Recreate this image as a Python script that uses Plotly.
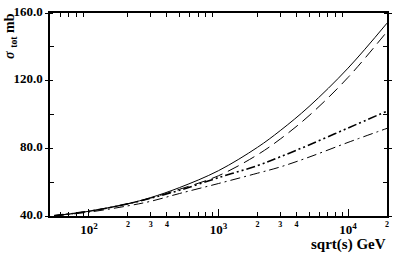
import plotly.graph_objects as go
import numpy as np

# data
sqrt_s = [54, 100, 200, 300, 500, 1000, 2000, 3000, 5000, 10000, 20000]
sigma_solid = [40.2, 42.8, 47.3, 50.9, 56.8, 66.8, 80.6, 90.5, 104.7, 127.4, 154.0]
sigma_dash = [40.2, 42.8, 47.2, 50.6, 55.8, 63.8, 76.2, 85.5, 99.3, 121.9, 149.0]
sigma_dashdotdot = [40.2, 42.8, 47.2, 50.5, 55.2, 62.7, 69.8, 75.0, 82.0, 92.0, 102.0]
sigma_dashdot = [40.1, 42.3, 46.0, 48.7, 53.3, 59.2, 65.3, 69.0, 74.8, 83.5, 91.8]

y_ticks = [40, 80, 120, 160]
y_ticklabels = ["40.0", "80.0", "120.0", "160.0"]
y_minor = [60, 100, 140]

x_major = [100, 1000, 10000]
x_major_labels = ["10<sup>2</sup>", "10<sup>3</sup>", "10<sup>4</sup>"]
x_minor = [m * 10 ** e for e in (1, 2, 3) for m in range(2, 10) if 50 < m * 10 ** e < 20000] + [20000]
x_minor_labels = [str(int(v / 10 ** int(np.floor(np.log10(v))))) if (v >= 200 and int(v / 10 ** int(np.floor(np.log10(v)))) in (2, 3, 4)) else "" for v in x_minor]

FONT = "Liberation Serif"
x_range = [np.log10(50), np.log10(20000)]

fig = go.Figure()
styles = [
    (sigma_solid, "solid", 1.0),
    (sigma_dash, "12px,6px", 1.0),
    (sigma_dashdotdot, "9px,3px,2px,3px,2px,3px", 1.6),
    (sigma_dashdot, "10px,4px,2px,4px", 1.0),
]
for ys, dash, w in styles:
    fig.add_trace(go.Scatter(x=sqrt_s, y=ys, mode="lines",
                             line=dict(color="black", width=w, dash=dash, shape="spline", smoothing=1.0),
                             showlegend=False, xaxis="x", yaxis="y"))

fig.update_layout(
    width=396, height=258,
    margin=dict(l=50, r=4, t=4, b=42),
    paper_bgcolor="white", plot_bgcolor="white",
    font=dict(family=FONT, color="black"),
    xaxis=dict(type="log", range=x_range, showgrid=False, zeroline=False,
               showline=True, linecolor="black", linewidth=1.5, mirror="allticks",
               ticks="inside", ticklen=4, tickcolor="black", tickwidth=1,
               tickvals=x_minor, ticktext=x_minor_labels,
               tickfont=dict(family=FONT, size=8, color="black", weight="bold"),
               ticklabelstandoff=0, ticklabeloverflow="allow"),
    xaxis2=dict(type="log", range=x_range, overlaying="x", anchor="y", side="bottom",
                showgrid=False, zeroline=False, showline=False,
                ticks="inside", ticklen=7, tickcolor="black", tickwidth=1,
                tickvals=x_major, ticktext=x_major_labels,
                tickfont=dict(family=FONT, size=13, color="black", weight="bold"),
                ticklabelstandoff=4, ticklabeloverflow="allow"),
    yaxis=dict(range=[40, 160], showgrid=False, zeroline=False,
               showline=True, linecolor="black", linewidth=1.5, mirror="allticks",
               ticks="outside", ticklen=3, tickcolor="black", tickwidth=1,
               tickvals=y_ticks, ticktext=y_ticklabels,
               tickfont=dict(family=FONT, size=13, color="black", weight="bold"),
               ticklabeloverflow="allow", ticklabelshift=-2,
               minor=dict(tickvals=y_minor, ticks="inside", ticklen=4, tickcolor="black")),
    annotations=[
        dict(text="sqrt(s) GeV", xref="paper", yref="paper", x=1.003, y=-0.142,
             xanchor="right", yanchor="middle", showarrow=False,
             font=dict(family=FONT, size=15, color="black", weight="bold")),
        dict(text="<i>σ</i> <sub>tot</sub> mb", xref="paper", yref="paper", x=-0.117, y=0.885,
             xanchor="center", yanchor="middle", textangle=-90, showarrow=False,
             font=dict(family=FONT, size=14, color="black", weight="bold")),
    ],
)
fig.add_trace(go.Scatter(x=[x_major[0]], y=[None], xaxis="x2", yaxis="y", showlegend=False))

fig.write_html("out.html")
